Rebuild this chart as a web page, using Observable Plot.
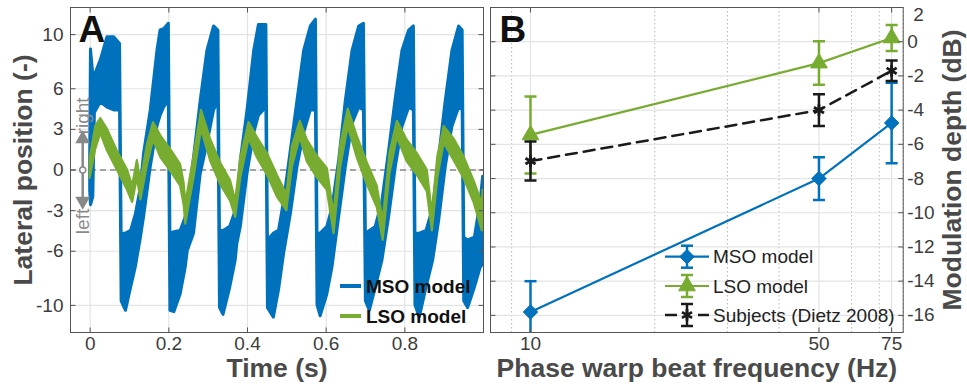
<!DOCTYPE html>
<html><head><meta charset="utf-8">
<script src="https://cdn.jsdelivr.net/npm/d3@7"></script>
<script src="https://cdn.jsdelivr.net/npm/@observablehq/plot@0.6"></script>
<style>
body{margin:0;background:#fff;}
#fig{position:relative;width:967px;height:385px;background:#fff;font-family:"Liberation Sans",Arial,Helvetica,sans-serif;}
#fig > svg{position:absolute;top:0;}
</style></head><body><div id="fig"></div>
<script>
// ---------- Panel A data (envelope of the noisy traces) ----------
const msoTime = [0.000,0.002,0.008,0.012,0.027,0.044,0.061,0.076,0.080,0.091,0.104,0.116,0.129,0.137,0.154,0.171,0.179,0.188,0.200,0.204,0.214,0.230,0.243,0.248,0.264,0.281,0.298,0.315,0.326,0.330,0.339,0.356,0.370,0.374,0.383,0.400,0.417,0.429,0.448,0.452,0.467,0.480,0.493,0.510,0.527,0.544,0.561,0.574,0.578,0.586,0.603,0.616,0.633,0.650,0.667,0.684,0.696,0.701,0.711,0.726,0.743,0.760,0.777,0.794,0.811,0.823,0.827,0.838,0.855,0.872,0.887,0.904,0.921,0.938,0.947,0.951,0.961,0.978,0.993,0.999];
const msoLow  = [-1.5,-2.6,-2.0,4.2,5.0,4.6,4.4,4.4,-9.7,-10.4,-8.7,-7.2,-5.0,-3.5,0.2,3.2,4.0,4.6,5.1,-10.4,-10.5,-9.2,-7.2,-6.0,-4.7,-0.3,1.9,4.4,5.0,-10.2,-10.7,-8.7,-6.7,-5.5,-4.2,-0.3,2.7,4.0,4.6,-10.2,-10.9,-8.9,-6.2,-3.3,0.2,2.7,4.4,4.4,-10.0,-10.8,-9.2,-7.2,-3.5,0.2,3.4,4.6,4.4,-9.7,-10.4,-8.7,-6.7,-3.5,0.2,3.2,4.6,4.4,-10.0,-10.9,-8.7,-6.7,-3.8,0.2,3.2,4.6,4.4,-9.7,-10.2,-8.7,-7.2,-7.0];
const msoHigh = [0.5,8.9,7.0,7.0,8.1,9.8,9.8,9.3,-4.7,-4.7,-4.5,-3.3,-1.3,1.2,4.4,8.8,10.3,10.4,10.8,-4.7,-4.6,-4.5,-3.5,-2.8,0.9,5.1,8.8,10.6,10.3,-4.5,-4.5,-4.2,-3.0,-2.8,0.7,4.4,8.8,10.7,10.7,-5.2,-4.7,-4.5,-2.3,1.4,5.1,8.8,10.6,11.1,-4.7,-4.7,-4.2,-2.8,0.7,5.1,8.8,10.6,10.8,-4.7,-4.5,-4.2,-2.3,1.4,5.3,8.8,10.3,10.6,-4.7,-4.7,-4.5,-2.8,0.9,5.1,8.8,10.6,10.3,-5.0,-5.2,-5.0,-2.3,-0.5];

const lsoTime = [0.000,0.014,0.027,0.044,0.069,0.095,0.108,0.120,0.129,0.146,0.161,0.180,0.205,0.230,0.239,0.243,0.264,0.283,0.307,0.332,0.357,0.370,0.383,0.404,0.425,0.451,0.476,0.500,0.514,0.534,0.552,0.578,0.603,0.620,0.637,0.656,0.679,0.705,0.730,0.745,0.762,0.781,0.806,0.832,0.857,0.870,0.884,0.900,0.925,0.950,0.976,0.997,0.999];
const lsoLow  = [-0.6,1.5,2.7,1.4,0.0,-1.5,-2.4,-0.6,-2.2,0.4,2.2,0.9,-0.1,-1.2,-2.6,-4.0,-0.6,3.0,0.6,-1.1,-2.3,-3.5,-0.6,2.3,0.9,-0.4,-2.0,-3.0,0.2,2.4,0.6,-0.6,-1.5,-4.7,0.2,3.2,0.9,-1.1,-2.8,-5.2,-0.3,2.4,0.6,-0.4,-1.6,-4.5,-0.6,2.0,0.7,-0.6,-2.4,-4.5,-2.5];
const lsoHigh = [0.8,3.2,3.8,3.0,1.4,0.0,-1.2,0.7,-0.9,1.9,3.5,2.5,1.5,0.4,-1.0,-2.5,1.0,4.4,2.2,0.5,-0.8,-2.3,0.9,3.5,2.4,1.2,-0.4,-1.8,1.7,3.6,2.2,1.0,0.1,-3.3,1.8,4.5,2.5,0.5,-1.2,-3.8,1.2,3.6,2.2,1.2,0.0,-3.2,1.0,3.2,2.3,1.0,-0.8,-2.5,-1.5];

const timeTicks = [0, 0.2, 0.4, 0.6, 0.8];
const latTicks = [-10, -6, -3, 0, 3, 6, 10];
const arrowSpan = [-2.3, 2.3];      // the left/right indicator arrow (lateral units)
const arrowTime = -0.019;
const sideWords = [{word: "right", y: 4.0}, {word: "left", y: -3.8}];

// ---------- Panel B data ----------
const freqs = [10, 50, 75];
const msoDepth = [-15.8, -8.0, -4.75];
const msoErr   = [1.8, 1.25, 2.35];
const lsoDepth = [-5.45, -1.25, 0.22];
const lsoErr   = [2.25, 1.27, 0.76];
const subjDepth = [-6.98, -4.0, -1.7];
const subjErr   = [1.14, 0.93, 0.6];
const freqTicks = [10, 50, 75];
const freqMinor = [9, 20, 30, 40, 60, 70, 80];
const depthTicks = [0, -2, -4, -6, -8, -10, -12, -14, -16];
const depthTop = [2];

// ---------- styles ----------
const blue = "#0072BD", green = "#77AC30", black = "#1a1a1a";
const tickCol = "#3d3d3d", titleCol = "#4a4a4a", frameCol = "#555", gridCol = "#e3e3e3";
const fontFamily = '"Liberation Sans", Arial, Helvetica, sans-serif';
const hline = {draw(ctx, size) { const w = Math.sqrt(size / Math.PI); ctx.moveTo(-w, 0); ctx.lineTo(w, 0); }};
const vline = {draw(ctx, size) { const w = Math.sqrt(size / Math.PI); ctx.moveTo(0, -w); ctx.lineTo(0, w); }};

const mso = msoTime.map((t, i) => ({t, lo: msoLow[i], hi: msoHigh[i]}));
const lso = lsoTime.map((t, i) => ({t, lo: lsoLow[i], hi: lsoHigh[i]}));

function inwardTicks(xt, yt) {
  const o = {symbol: hline, r: 2.5, stroke: frameCol, fill: "none", strokeWidth: 1};
  const v = {symbol: vline, r: 2.5, stroke: frameCol, fill: "none", strokeWidth: 1};
  return [
    Plot.dot(yt, {...o, y: d => d, frameAnchor: "left", dx: 2.5}),
    Plot.dot(yt, {...o, y: d => d, frameAnchor: "right", dx: -2.5}),
    Plot.dot(xt, {...v, x: d => d, frameAnchor: "bottom", dy: -2.5}),
    Plot.dot(xt, {...v, x: d => d, frameAnchor: "top", dy: 2.5})
  ];
}

const plotA = Plot.plot({
  width: 487, height: 385,
  marginLeft: 70, marginRight: 4, marginTop: 7, marginBottom: 53,
  style: {fontFamily, fontSize: "19px", color: tickCol, background: "transparent", overflow: "visible"},
  x: {domain: [-0.05, 1.0]},
  y: {domain: [-12, 12]},
  marks: [
    Plot.gridX({ticks: timeTicks, stroke: gridCol, strokeOpacity: 1, strokeWidth: 1.2}),
    Plot.gridY({ticks: latTicks, stroke: gridCol, strokeOpacity: 1, strokeWidth: 1.2}),
    Plot.ruleY([0], {stroke: "#8a8a8a", strokeWidth: 1.6, strokeDasharray: "6,4"}),
    Plot.areaY(mso, {x: "t", y1: "lo", y2: "hi", fill: blue, stroke: blue, strokeWidth: 3, strokeLinejoin: "round", clip: true}),
    Plot.areaY(lso, {x: "t", y1: "lo", y2: "hi", fill: green, stroke: green, strokeWidth: 2.2, strokeLinejoin: "round", clip: true}),
    // left/right indicator
    Plot.ruleX([arrowTime], {y1: arrowSpan[0], y2: arrowSpan[1], stroke: "#888", strokeWidth: 2.5}),
    Plot.dot([arrowSpan[1]], {x: arrowTime, y: d => d, symbol: "triangle", r: 5.5, fill: "#888", stroke: "none"}),
    Plot.dot([arrowSpan[0]], {x: arrowTime, y: d => d, symbol: "triangle", r: 5.5, rotate: 180, fill: "#888", stroke: "none"}),
    Plot.dot([0], {x: arrowTime, y: d => d, r: 3, fill: "#fff", stroke: "#888", strokeWidth: 1.5}),
    Plot.text(sideWords, {x: arrowTime, y: "y", text: "word", rotate: -90, fill: "#8a8a8a", fontSize: 19, lineAnchor: "middle", textAnchor: "middle"}),
    Plot.frame({stroke: frameCol, strokeWidth: 1}),
    ...inwardTicks(timeTicks, latTicks),
    Plot.axisX({ticks: timeTicks, tickSize: 0, tickPadding: 4, tickFormat: d => String(d), label: null, fill: tickCol, fontSize: 19}),
    Plot.axisY({ticks: latTicks, tickSize: 0, tickPadding: 7, tickFormat: d => String(d), label: null, fill: tickCol, fontSize: 19}),
    Plot.text(["A"], {frameAnchor: "top-left", dx: 8, dy: 8, text: d => d, lineAnchor: "top", textAnchor: "start", fontSize: 37, fontWeight: "bold", fill: "#111"}),
    Plot.text(["Lateral position (-)"], {frameAnchor: "left", dx: -47, text: d => d, rotate: -90, lineAnchor: "middle", textAnchor: "middle", fontSize: 26.5, fontWeight: "bold", fill: titleCol}),
    Plot.text(["Time (s)"], {frameAnchor: "bottom", dy: 26, text: d => d, lineAnchor: "top", textAnchor: "middle", fontSize: 26.5, fontWeight: "bold", fill: titleCol})
  ]
});

const rows = (d, e) => freqs.map((f, i) => ({f, v: d[i], lo: d[i] - e[i], hi: d[i] + e[i]}));
const msoB = rows(msoDepth, msoErr), lsoB = rows(lsoDepth, lsoErr), subjB = rows(subjDepth, subjErr);

function series(data, color, opts) {
  return [
    Plot.line(data, {x: "f", y: "v", stroke: color, strokeWidth: opts.lw || 2.2, clip: true, ...(opts.dash ? {strokeDasharray: opts.dash} : {})}),
    Plot.ruleX(data, {x: "f", y1: "lo", y2: "hi", stroke: color, strokeWidth: 2.5, clip: true}),
    Plot.dot(data, {x: "f", y: "lo", symbol: hline, r: 6, stroke: color, fill: "none", strokeWidth: 2.5, clip: true}),
    Plot.dot(data, {x: "f", y: "hi", symbol: hline, r: 6, stroke: color, fill: "none", strokeWidth: 2.5, clip: true}),
    Plot.dot(data, {x: "f", y: "v", symbol: opts.symbol, r: opts.r, fill: opts.fill, stroke: color, strokeWidth: opts.sw || 1, clip: true})
  ];
}

const plotB = Plot.plot({
  width: 480, height: 385,
  marginLeft: 3, marginRight: 64.3, marginTop: 7, marginBottom: 53,
  style: {fontFamily, fontSize: "19px", color: tickCol, background: "transparent", overflow: "visible"},
  x: {type: "log", domain: [8, 80]},
  y: {domain: [-17, 2]},
  marks: [
    Plot.gridX({ticks: freqMinor, stroke: "#b5b5b5", strokeOpacity: 1, strokeWidth: 1, strokeDasharray: "1.5,2.5"}),
    Plot.gridX({ticks: freqTicks, stroke: gridCol, strokeOpacity: 1, strokeWidth: 1.2}),
    Plot.gridY({ticks: depthTicks, stroke: gridCol, strokeOpacity: 1, strokeWidth: 1.2}),
    ...series(msoB, blue, {symbol: "diamond2", r: 6.5, fill: blue}),
    ...series(lsoB, green, {symbol: "triangle", r: 6.2, fill: green}),
    ...series(subjB, black, {symbol: "asterisk", r: 5.5, fill: "none", sw: 2.8, dash: "11,7", lw: 2.5}),
    Plot.frame({stroke: frameCol, strokeWidth: 1}),
    ...inwardTicks(freqTicks, depthTicks),
    Plot.axisX({ticks: freqTicks, tickSize: 0, tickPadding: 4, tickFormat: d => String(d), label: null, fill: tickCol, fontSize: 19}),
    Plot.axisY({anchor: "right", ticks: depthTicks, tickSize: 0, tickPadding: 4, tickFormat: d => String(d), label: null, fill: tickCol, fontSize: 19}),
    Plot.text(depthTop, {y: d => d, frameAnchor: "right", dx: 10, dy: 7, text: d => String(d), textAnchor: "start", lineAnchor: "middle", fill: tickCol, fontSize: 19}),
    Plot.text(["B"], {frameAnchor: "top-left", dx: 9, dy: 8, text: d => d, lineAnchor: "top", textAnchor: "start", fontSize: 37, fontWeight: "bold", fill: "#111"}),
    Plot.text(["Modulation depth (dB)"], {frameAnchor: "right", dx: 49.5, text: d => d, rotate: -90, lineAnchor: "middle", textAnchor: "middle", fontSize: 26.5, fontWeight: "bold", fill: titleCol}),
    Plot.text(["Phase warp beat frequency (Hz)"], {frameAnchor: "bottom", dy: 26, text: d => d, lineAnchor: "top", textAnchor: "middle", fontSize: 26.5, fontWeight: "bold", fill: titleCol})
  ]
});

const fig = document.getElementById("fig");
plotA.style.left = "0px";
plotB.style.left = "487px";
fig.appendChild(plotA);
fig.appendChild(plotB);

// ---------- legends ----------
const leg = d3.select(fig).append("svg").attr("width", 967).attr("height", 385).style("left", "0px").style("pointer-events", "none")
  .style("font-family", fontFamily);
const legA = [{label: "MSO model", color: blue, y: 286}, {label: "LSO model", color: green, y: 316}];
legA.forEach(d => {
  leg.append("line").attr("x1", 340).attr("x2", 361).attr("y1", d.y).attr("y2", d.y).attr("stroke", d.color).attr("stroke-width", 4);
  leg.append("text").attr("x", 366).attr("y", d.y).attr("dy", "0.35em").attr("font-size", 19).attr("font-weight", "bold").attr("fill", "#111").text(d.label);
});
const sym = (name, r) => d3.symbol(name, Math.PI * r * r)();
const legB = [
  {label: "MSO model", color: blue, y: 256.7, marker: sym(d3.symbolDiamond2, 6.5), fill: blue, dash: null, lw: 2.2},
  {label: "LSO model", color: green, y: 286, marker: sym(d3.symbolTriangle, 6.2), fill: green, dash: null, lw: 2.2},
  {label: "Subjects (Dietz 2008)", color: black, y: 315, marker: sym(d3.symbolAsterisk, 5.5), fill: "none", dash: "12,21,12", lw: 2.5}
];
legB.forEach(d => {
  const l = leg.append("line").attr("x1", 665).attr("x2", 709).attr("y1", d.y).attr("y2", d.y).attr("stroke", d.color).attr("stroke-width", d.lw);
  if (d.dash) l.attr("stroke-dasharray", d.dash);
  leg.append("line").attr("x1", 687).attr("x2", 687).attr("y1", d.y - 11).attr("y2", d.y + 11).attr("stroke", d.color).attr("stroke-width", 2.5);
  [d.y - 11, d.y + 11].forEach(yy => leg.append("line").attr("x1", 681).attr("x2", 693).attr("y1", yy).attr("y2", yy).attr("stroke", d.color).attr("stroke-width", 2.5));
  leg.append("path").attr("d", d.marker).attr("transform", `translate(687,${d.y})`).attr("fill", d.fill).attr("stroke", d.color).attr("stroke-width", d.fill === "none" ? 2.8 : 1);
  leg.append("text").attr("x", 713).attr("y", d.y).attr("dy", "0.35em").attr("font-size", 19).attr("fill", "#222").text(d.label);
});
</script></body></html>
